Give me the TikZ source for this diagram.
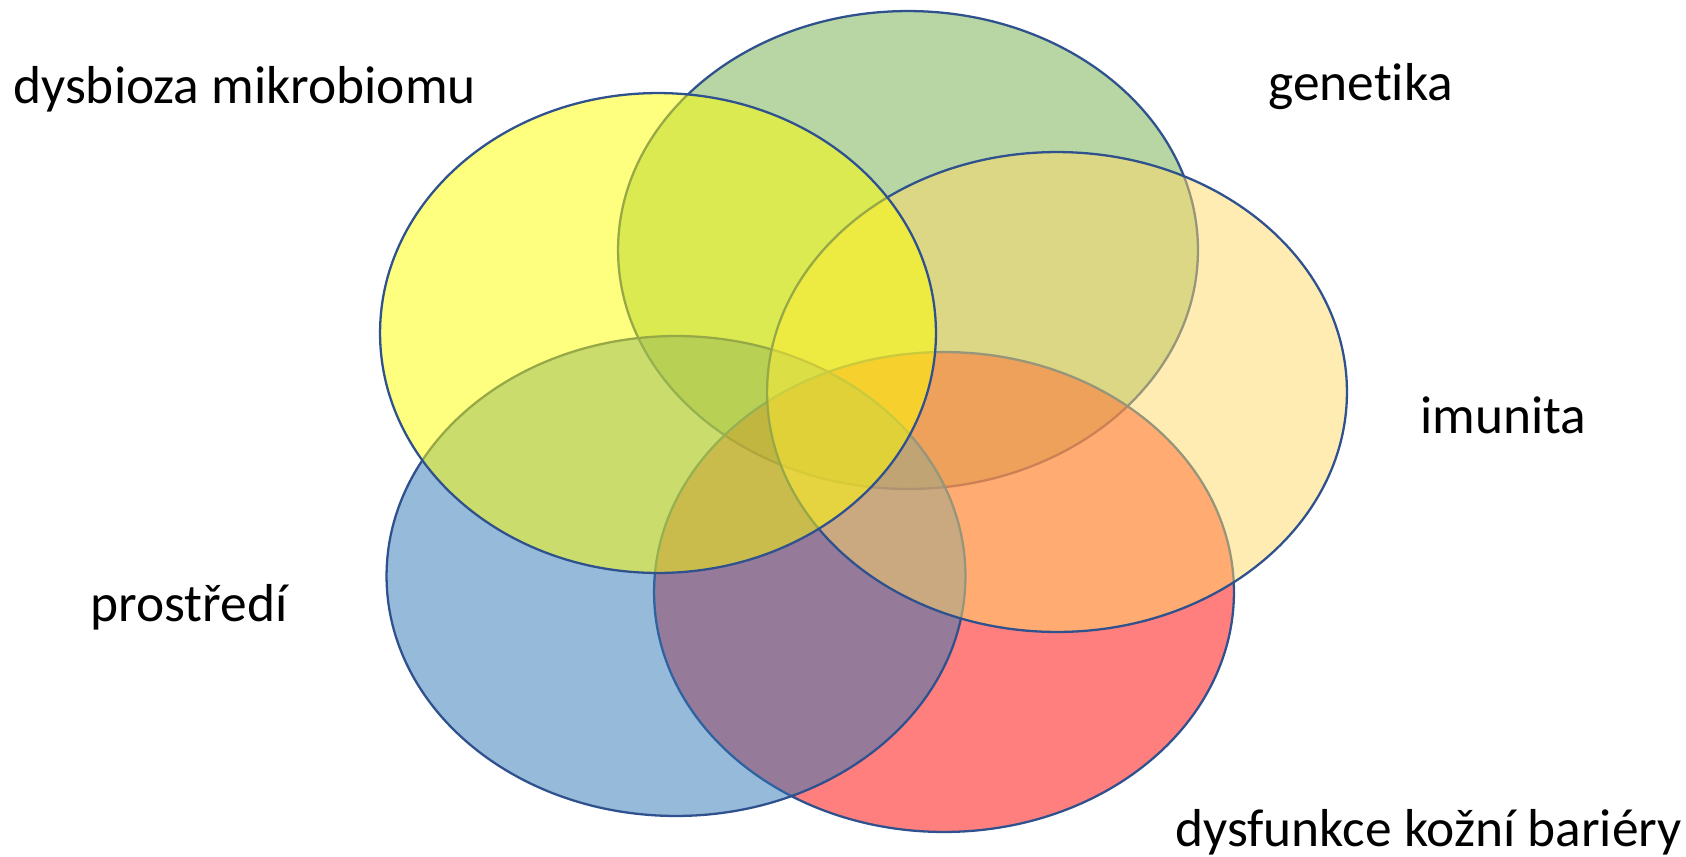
\documentclass[tikz,border=0pt]{standalone}
\usepackage{fontspec}
\setmainfont[Ligatures={NoCommon}]{Carlito}
\begin{document}
\begin{tikzpicture}[x=0.02cm,y=-0.02cm,
  venn/.style={draw=vennline, line width=1.3pt, fill opacity=0.5},
  lbl/.style={anchor=base west, inner sep=0pt, font=\fontsize{30.4pt}{35pt}\selectfont}]
\definecolor{vennline}{HTML}{2F528F}
\definecolor{cgreen}{HTML}{70AD47}
\definecolor{cred}{HTML}{FF0000}
\definecolor{cblue}{HTML}{2E75B6}
\definecolor{cgold}{HTML}{FFD966}
\definecolor{cyellow}{HTML}{FFFF00}
\useasboundingbox (0,0) rectangle (1686,856);
% ellipses, bottom to top
\path[venn, fill=cgreen]  (908,250)  ellipse [x radius=5.8cm, y radius=4.78cm];
\path[venn, fill=cred]    (944,592)  ellipse [x radius=5.8cm, y radius=4.8cm];
\path[venn, fill=cblue]   (676,576)  ellipse [x radius=5.79cm, y radius=4.8cm];
\path[venn, fill=cgold]   (1057,392) ellipse [x radius=5.8cm, y radius=4.8cm];
\path[venn, fill=cyellow] (658,333)  ellipse [x radius=5.56cm, y radius=4.8cm];
% labels
\node[lbl] (dys) at (13,103) {dysbioza mikrobiomu};
\node[lbl] (gen) at (1268,100) {genetika};
\node[lbl] (imu) at (1420,433) {imunita};
\node[lbl] (pro) at (90,621) {prostředí};
\node[lbl] (bar) at (1175,846) {dysfunkce kožní bariéry};
\end{tikzpicture}
\end{document}
